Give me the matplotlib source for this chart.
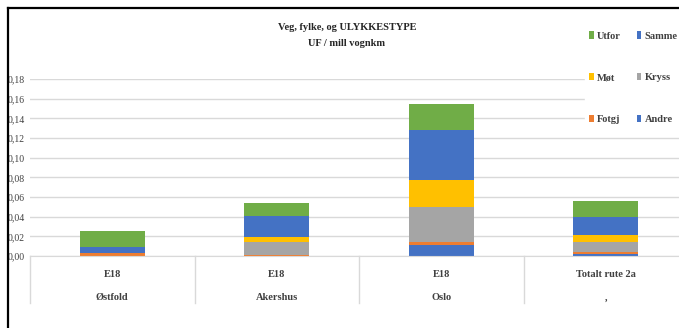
import matplotlib.pyplot as plt
from matplotlib.lines import Line2D
from matplotlib.patches import Patch
import matplotlib.transforms as mtransforms
import numpy as np

# categories (two-level axis)
roads = ["E18", "E18", "E18", "Totalt rute 2a"]
counties = ["Østfold", "Akershus", "Oslo", ","]

# series, stacked bottom -> top
series = ["Andre", "Fotgj", "Kryss", "Møt", "Samme", "Utfor"]
andre = [0.0005, 0.0000, 0.0107, 0.0024]
fotgj = [0.0025, 0.0010, 0.0035, 0.0014]
kryss = [0.0000, 0.0135, 0.0358, 0.0104]
mot = [0.0000, 0.0050, 0.0273, 0.0068]
samme = [0.0060, 0.0210, 0.0507, 0.0186]
utfor = [0.0160, 0.0130, 0.0270, 0.0164]

colors = {
    "Andre": "#4472C4",
    "Fotgj": "#ED7D31",
    "Kryss": "#A5A5A5",
    "Møt": "#FFC000",
    "Samme": "#4472C4",
    "Utfor": "#70AD47",
}

yticks = [0.00, 0.02, 0.04, 0.06, 0.08, 0.10, 0.12, 0.14, 0.16, 0.18]

FONT = "Liberation Serif"

fig = plt.figure(figsize=(6.79, 3.28), dpi=100)
ax = fig.add_axes([30 / 679, 1 - 256 / 328, 658 / 679, 177 / 328])

x = np.arange(len(roads))
bottom = np.zeros(len(roads))
for name, vals in zip(series, [andre, fotgj, kryss, mot, samme, utfor]):
    ax.bar(x, vals, width=0.395, bottom=bottom, color=colors[name], zorder=3)
    bottom += np.array(vals)

ax.set_xlim(-0.5, 3.5)
ax.set_ylim(0, 0.18)
ax.set_yticks(yticks)
ax.set_yticklabels([f"{t:.2f}".replace(".", ",") for t in yticks],
                   fontfamily=FONT, fontsize=7, color="#404040")
ax.tick_params(axis="y", length=0, pad=4)
ax.set_xticks([])
ax.grid(axis="y", color="#D9D9D9", linewidth=1, zorder=0)
for s in ["top", "right", "left"]:
    ax.spines[s].set_visible(False)
ax.spines["bottom"].set_color("#D9D9D9")
ax.spines["bottom"].set_zorder(4)

# two-level category labels with separators
trans = mtransforms.blended_transform_factory(ax.transData, ax.transAxes)
for i in range(len(roads)):
    ax.text(i, -0.105, roads[i], transform=trans, ha="center", va="center",
            fontfamily=FONT, fontweight="bold", fontsize=7.5, color="#404040")
    ax.text(i, -0.237, counties[i], transform=trans, ha="center", va="center",
            fontfamily=FONT, fontweight="bold", fontsize=7.5, color="#404040")
for b in [-0.5, 0.5, 1.5, 2.5]:
    ax.plot([b, b], [0, -0.266], transform=trans, color="#D9D9D9",
            linewidth=1, clip_on=False)

# title
fig.text(347 / 679, 1 - 27 / 328, "Veg, fylke, og ULYKKESTYPE", ha="center",
         va="center", fontfamily=FONT, fontweight="bold", fontsize=7.5,
         color="#262626")
fig.text(347 / 679, 1 - 44 / 328, "UF / mill vognkm",
         ha="center", va="center", fontfamily=FONT, fontweight="bold",
         fontsize=7.5, color="#262626")

# legend (white box covering gridlines on the right)
order = ["Utfor", "Møt", "Fotgj", "Samme", "Kryss", "Andre"]
handles = [Patch(facecolor=colors[n], edgecolor="none") for n in order]
leg = fig.legend(handles, order, ncol=2, loc="upper left",
                 bbox_to_anchor=(580 / 679, 1 - 22 / 328),
                 frameon=True, facecolor="white", edgecolor="white",
                 framealpha=1, fancybox=False,
                 handlelength=0.45, handleheight=0.7, handletextpad=0.3,
                 labelspacing=3.12, columnspacing=1.5, borderpad=0.4,
                 prop={"family": FONT, "weight": "bold", "size": 7.5})
for t in leg.get_texts():
    t.set_color("#404040")

# outer frame (top and left edges)
fig.add_artist(Line2D([8 / 679, 1], [1 - 8 / 328, 1 - 8 / 328],
                      transform=fig.transFigure, color="black", linewidth=1.6))
fig.add_artist(Line2D([8 / 679, 8 / 679], [0, 1 - 8 / 328],
                      transform=fig.transFigure, color="black", linewidth=1.6))

fig.savefig("out.png", dpi=100)
